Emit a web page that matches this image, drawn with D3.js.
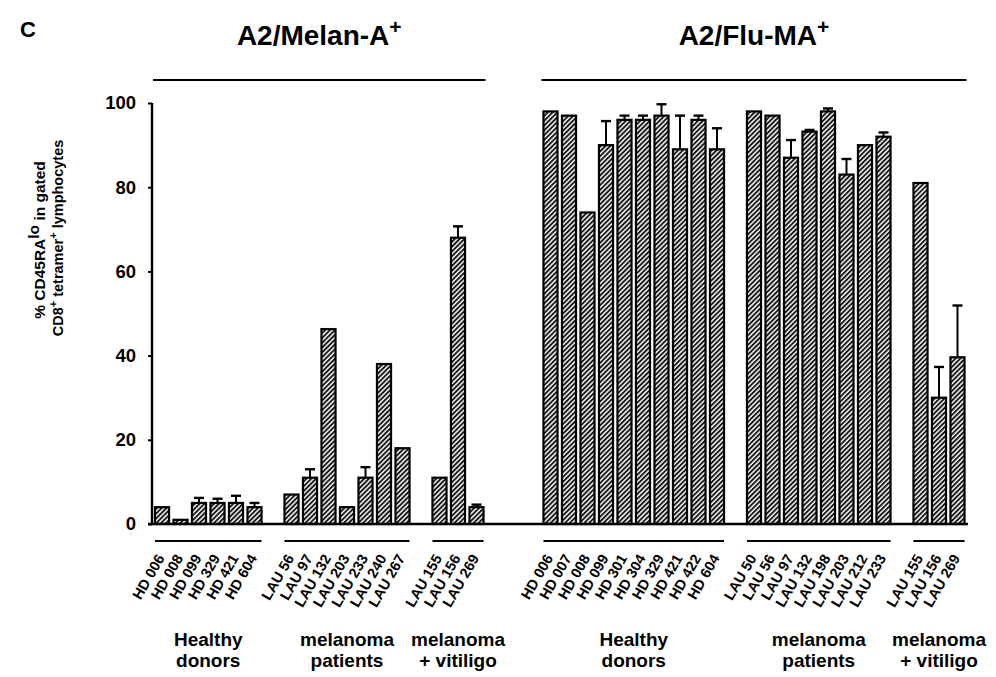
<!DOCTYPE html>
<html>
<head>
<meta charset="utf-8">
<script src="https://cdn.jsdelivr.net/npm/d3@7"></script>
<style>
  body { margin: 0; background: #fff; }
  text { font-family: "Liberation Sans", Arial, sans-serif; font-weight: bold; fill: #000; }
</style>
</head>
<body>
<div id="chart"></div>
<script>
// --- data (upper error bar = SD) ---
var melanHealthyNames = ["HD 006", "HD 008", "HD 099", "HD 329", "HD 421", "HD 604"];
var melanHealthyValues = [4, 1, 5, 5, 5, 4];
var melanHealthyErr = [0, 0, 1.2, 1, 1.7, 1];

var melanPatientNames = ["LAU 56", "LAU 97", "LAU 132", "LAU 203", "LAU 233", "LAU 240", "LAU 267"];
var melanPatientValues = [7, 11, 46.3, 4, 11, 38, 18];
var melanPatientErr = [0, 2, 0, 0, 2.5, 0, 0];

var melanVitiligoNames = ["LAU 155", "LAU 156", "LAU 269"];
var melanVitiligoValues = [11, 68, 4];
var melanVitiligoErr = [0, 2.7, 0.6];

var fluHealthyNames = ["HD 006", "HD 007", "HD 008", "HD 099", "HD 301", "HD 304", "HD 329", "HD 421", "HD 422", "HD 604"];
var fluHealthyValues = [98, 97, 74, 90, 96, 96, 97, 89, 96, 89];
var fluHealthyErr = [0, 0, 0, 5.7, 1, 1, 2.7, 8, 1, 5];

var fluPatientNames = ["LAU 50", "LAU 56", "LAU 97", "LAU 132", "LAU 198", "LAU 203", "LAU 212", "LAU 233"];
var fluPatientValues = [98, 97, 87, 93.2, 98, 83, 90, 92];
var fluPatientErr = [0, 0, 4.2, 0.4, 0.7, 3.7, 0, 1];

var fluVitiligoNames = ["LAU 155", "LAU 156", "LAU 269"];
var fluVitiligoValues = [81, 30, 39.6];
var fluVitiligoErr = [0, 7.3, 12.3];

var groupLabels = [["Healthy", "donors"], ["melanoma", "patients"], ["melanoma", "+ vitiligo"]];
var panelTitles = ["A2/Melan-A", "A2/Flu-MA"];
var yTicks = [0, 20, 40, 60, 80, 100];

var panels = [
  {title: panelTitles[0], groups: [
    {names: melanHealthyNames, values: melanHealthyValues, err: melanHealthyErr, label: groupLabels[0]},
    {names: melanPatientNames, values: melanPatientValues, err: melanPatientErr, label: groupLabels[1]},
    {names: melanVitiligoNames, values: melanVitiligoValues, err: melanVitiligoErr, label: groupLabels[2]}]},
  {title: panelTitles[1], groups: [
    {names: fluHealthyNames, values: fluHealthyValues, err: fluHealthyErr, label: groupLabels[0]},
    {names: fluPatientNames, values: fluPatientValues, err: fluPatientErr, label: groupLabels[1]},
    {names: fluVitiligoNames, values: fluVitiligoValues, err: fluVitiligoErr, label: groupLabels[2]}]}
];

// flatten into slots; empty slots separate groups and panels
var slots = [], bars = [];
panels.forEach((p, pi) => {
  if (pi > 0) for (var k = 0; k < 3; k++) slots.push("gap-p" + pi + "-" + k);
  p.groups.forEach((g, gi) => {
    if (gi > 0) slots.push("gap-" + pi + "-" + gi);
    g.keys = [];
    g.names.forEach((n, i) => {
      var key = pi + "|" + n;
      slots.push(key);
      g.keys.push(key);
      bars.push({key: key, name: n, value: g.values[i], err: g.err[i]});
    });
  });
});

var width = 996, height = 677;
var svg = d3.select("#chart").append("svg")
  .attr("width", width).attr("height", height);

var x = d3.scaleBand().domain(slots).range([152.75, 966.75])
  .paddingInner(0.24).paddingOuter(0.12);
var y = d3.scaleLinear().domain([0, 100]).range([524, 103]);

var defs = svg.append("defs");
defs.append("pattern")
  .attr("id", "hatch")
  .attr("patternUnits", "userSpaceOnUse")
  .attr("width", 3.4).attr("height", 3.4)
  .attr("patternTransform", "rotate(45)")
  .call(p => {
    p.append("rect").attr("width", 3.4).attr("height", 3.4).attr("fill", "#fff");
    p.append("line").attr("x1", 1).attr("x2", 1).attr("y1", 0).attr("y2", 3.4)
      .attr("stroke", "#111").attr("stroke-width", 1.9);
  });

// panel letter
svg.append("text").attr("x", 20).attr("y", 37).style("font-size", "22px").text("C");

// y axis
var yAxis = svg.append("g").attr("transform", "translate(152,0)")
  .call(d3.axisLeft(y).tickValues(yTicks).tickSize(4).tickPadding(12));
yAxis.select(".domain").attr("stroke-width", 2.4).attr("d", "M0," + y(100) + "V" + y(0));
yAxis.selectAll(".tick line").attr("stroke-width", 2);
yAxis.selectAll(".tick text").style("font-size", "18.5px")
  .style("font-family", "'Liberation Sans', Arial, sans-serif").style("font-weight", "bold");

// y title
var yt = svg.append("text").attr("transform", "translate(45,240) rotate(-90)")
  .attr("text-anchor", "middle").style("font-size", "15.5px");
yt.append("tspan").text("% CD45RA");
yt.append("tspan").attr("dy", -6).text("lo");
yt.append("tspan").attr("dy", 6).text(" in gated");
var yt2 = svg.append("text").attr("transform", "translate(63,238) rotate(-90)")
  .attr("text-anchor", "middle").style("font-size", "14.5px");
yt2.append("tspan").text("CD8");
yt2.append("tspan").attr("dy", -6).style("font-size", "11px").text("+");
yt2.append("tspan").attr("dy", 6).text(" tetramer");
yt2.append("tspan").attr("dy", -6).style("font-size", "11px").text("+");
yt2.append("tspan").attr("dy", 6).text(" lymphocytes");

// bars
svg.append("g").selectAll("rect").data(bars).join("rect")
  .attr("x", d => x(d.key))
  .attr("y", d => y(d.value))
  .attr("width", x.bandwidth())
  .attr("height", d => y(0) - y(d.value))
  .attr("fill", "url(#hatch)")
  .attr("stroke", "#000").attr("stroke-width", 2.2);

// error bars (upper only)
var eb = svg.append("g").selectAll("g").data(bars.filter(d => d.err > 0)).join("g")
  .attr("stroke", "#000").attr("stroke-width", 2);
eb.append("line")
  .attr("x1", d => x(d.key) + x.bandwidth() / 2).attr("x2", d => x(d.key) + x.bandwidth() / 2)
  .attr("y1", d => y(d.value)).attr("y2", d => y(d.value + d.err));
eb.append("line")
  .attr("x1", d => x(d.key) + x.bandwidth() / 2 - 5).attr("x2", d => x(d.key) + x.bandwidth() / 2 + 5)
  .attr("y1", d => y(d.value + d.err)).attr("y2", d => y(d.value + d.err))
  .attr("stroke-width", 2.4);

// baseline
svg.append("line").attr("x1", 148).attr("x2", 968).attr("y1", y(0)).attr("y2", y(0))
  .attr("stroke", "#000").attr("stroke-width", 2.4);

// panel titles with overline
panels.forEach(p => {
  var first = p.groups[0].keys[0];
  var lastG = p.groups[p.groups.length - 1];
  var last = lastG.keys[lastG.keys.length - 1];
  var x0 = x(first) - 2, x1 = x(last) + x.bandwidth() + 2;
  svg.append("line").attr("x1", x0).attr("x2", x1).attr("y1", 80).attr("y2", 80)
    .attr("stroke", "#000").attr("stroke-width", 2);
  var t = svg.append("text").attr("x", (x0 + x1) / 2).attr("y", 45)
    .attr("text-anchor", "middle").style("font-size", "28px");
  t.append("tspan").text(p.title);
  t.append("tspan").attr("dy", -11).style("font-size", "21px").text("+");

  // group underlines and labels
  p.groups.forEach(g => {
    var gx0 = x(g.keys[0]), gx1 = x(g.keys[g.keys.length - 1]) + x.bandwidth();
    svg.append("line").attr("x1", gx0).attr("x2", gx1).attr("y1", 541).attr("y2", 541)
      .attr("stroke", "#000").attr("stroke-width", 2);
    var gl = svg.append("text").attr("text-anchor", "middle").style("font-size", "19px");
    gl.append("tspan").attr("x", (gx0 + gx1) / 2).attr("y", 646).text(g.label[0]);
    gl.append("tspan").attr("x", (gx0 + gx1) / 2).attr("y", 667).text(g.label[1]);
  });
});

// rotated sample labels
svg.append("g").selectAll("text").data(bars).join("text")
  .attr("transform", d => "translate(" + (x(d.key) + x.bandwidth() / 2 + 3) + ",558) rotate(-60)")
  .attr("text-anchor", "end")
  .style("font-size", "14.5px")
  .text(d => d.name);
</script>
</body>
</html>
